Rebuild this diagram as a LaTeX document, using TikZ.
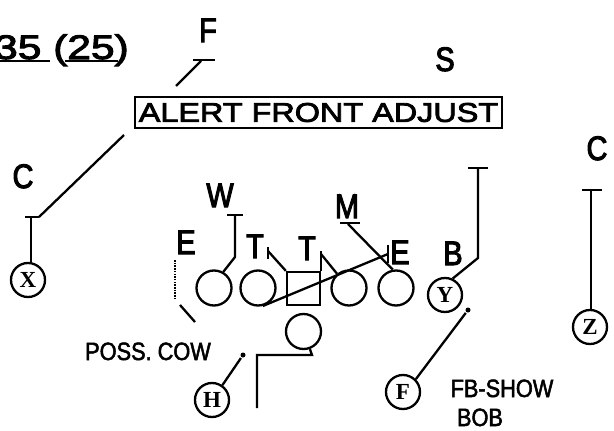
\documentclass[tikz,border=0pt]{standalone}
\usepackage{fontspec}
\setmainfont{Liberation Sans}
\newfontfamily\labfont[FakeStretch=0.85,FakeBold=3]{Liberation Sans}
\newfontfamily\boxfont[FakeStretch=1.2,FakeBold=3]{Liberation Sans}
\newfontfamily\numfont[FakeStretch=1.25,FakeBold=3]{Liberation Sans}
\newfontfamily\notefont[FakeStretch=0.87,FakeBold=2]{Liberation Sans}
\newfontfamily\plyfont{Liberation Serif}
\begin{document}
\begin{tikzpicture}[x=1pt,y=-1pt, line width=2.3pt,
  lab/.style={font=\labfont\fontsize{34}{34}\selectfont, anchor=base, inner sep=0pt},
  note/.style={font=\notefont\fontsize{25}{25}\selectfont, anchor=base, inner sep=0pt},
  ply/.style={circle, draw, line width=2.3pt, minimum size=34pt, inner sep=0pt, font=\plyfont\bfseries\fontsize{23}{23}\selectfont},
  lineman/.style={circle, draw, line width=2.3pt, minimum size=35pt, inner sep=0pt},
  center/.style={draw, line width=2.3pt, minimum size=33pt, inner sep=0pt},
  enddot/.style={circle, fill, inner sep=0pt, minimum size=5pt},
  dots/.style={dash pattern=on 1.5pt off 1.2pt}
]
\useasboundingbox (0,0) rectangle (614,431);

% title
\node[font=\numfont\fontsize{34}{34}\selectfont, anchor=base east, inner sep=0pt] (title) at (130,59) {35 (25)};
\coordinate (u1a) at (0,61); \coordinate (u1b) at (50,61);
\coordinate (u2a) at (65,61); \coordinate (u2b) at (118,61);
\draw (u1a) -- (u1b);
\draw (u2a) -- (u2b);

% alert box
\node[draw, line width=2.3pt, minimum width=367pt, minimum height=31pt, inner sep=0pt,
      font=\boxfont\fontsize{27}{27}\selectfont] (alert) at (318.5,112.5) {ALERT FRONT ADJUST};

% defender labels
\node[lab] (lF) at (208,42) {F};
\node[lab] (lS) at (445,71) {S};
\node[lab] (lCr) at (597,160) {C};
\node[lab] (lCl) at (23,188) {C};
\node[lab] (lW) at (220,207) {W};
\node[lab] (lEl) at (186,254) {E};
\node[lab] (lT1) at (255,258) {T};
\node[lab] (lT2) at (307,260) {T};
\node[lab] (lM) at (347,218) {M};
\node[lab] (lEr) at (400,264) {E};
\node[lab] (lB) at (453,265) {B};

% offense
\node[ply] (X) at (28,280) {X};
\node[ply] (Y) at (445,295) {Y};
\node[ply] (Z) at (590,327) {Z};
\node[ply] (Fb) at (403,392) {F};
\node[ply] (H) at (212,400) {H};
\node[lineman] (OL1) at (214,288) {};
\node[lineman] (OL2) at (258,288) {};
\node[center] (Ctr) at (303.5,288.5) {};
\node[lineman] (OL3) at (349,288) {};
\node[lineman] (OL4) at (396,288) {};
\node[lineman] (QB) at (303.5,331.5) {};

% F (top) route
\coordinate (fL) at (193,60); \coordinate (fR) at (215,60);
\coordinate (fA) at (201,61); \coordinate (fE) at (176,86);
\draw (fL) -- (fR);
\draw (fA) -- (fE);

% left C
\coordinate (cl1) at (25,217); \coordinate (cl2) at (39,217);
\coordinate (clm) at (31,217); \coordinate (clE) at (124,135);
\draw (cl1) -- (cl2);
\draw (cl2) -- (clE);
\draw (clm) -- (X.north -| clm);

% S
\coordinate (s1) at (468,168); \coordinate (s2) at (488,168);
\coordinate (sm) at (478,168); \coordinate (sk) at (478,258);
\draw (s1) -- (s2);
\draw (sm) -- (sk) -- (Y.65);

% right C
\coordinate (cr1) at (582,190); \coordinate (cr2) at (602,190);
\coordinate (crm) at (591,190);
\draw (cr1) -- (cr2);
\draw (crm) -- (Z.north -| crm);

% W
\coordinate (w1) at (227,215); \coordinate (w2) at (243,215);
\coordinate (wm) at (235,215); \coordinate (wk) at (235,257);
\draw (w1) -- (w2);
\draw (wm) -- (wk) -- (OL1.60);

% left E
\coordinate (e1) at (175,260); \coordinate (e2) at (175,300);
\coordinate (e3) at (180,305); \coordinate (e4) at (195,322);
\draw[dots] (e1) -- (e2);
\draw (e3) -- (e4);

% T1
\coordinate (t1a) at (268,247); \coordinate (t1b) at (268,259); \coordinate (t1c) at (268,251);
\draw (t1a) -- (t1b);
\draw (t1c) -- (Ctr.north west);

% T2
\coordinate (t2a) at (321,251); \coordinate (t2b) at (321,271); \coordinate (t2c) at (321,254);
\draw (t2a) -- (t2b);
\draw (t2c) -- (OL3.130);

% right E (long diagonal)
\coordinate (ed) at (388,254);
\coordinate (eb1) at (388,245); \coordinate (eb2) at (388,263);
\draw (OL2.-75) -- (ed);
\draw (eb1) -- (eb2);

% M
\coordinate (m1) at (340,223); \coordinate (m2) at (360,223); \coordinate (mm) at (348,224);
\draw (m1) -- (m2);
\draw (mm) -- (OL4.100);

% QB route
\coordinate (q1) at (312,355); \coordinate (q2) at (257,355); \coordinate (q3) at (257,408);
\draw (QB.-70) -- (q1) -- (q2) -- (q3);

% H and F motion
\node[enddot] (hd) at (243,355) {};
\node[enddot] (fd) at (468,310) {};
\draw (H.55) -- (hd);
\draw (Fb.45) -- (fd);

% notes
\node[note] (poss) at (148,360) {POSS. COW};
\node[note] (fbs) at (502,397) {FB-SHOW};
\node[note] (bob) at (480,426) {BOB};
\end{tikzpicture}
\end{document}
